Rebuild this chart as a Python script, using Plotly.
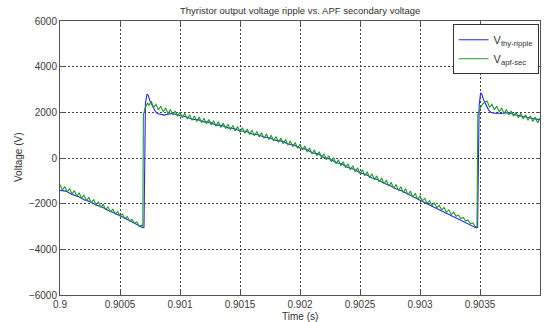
import plotly.graph_objects as go

# ---------------- data (time in units of 10 microseconds after 0.9 s) ----------------
T0 = 0.9
UNIT = 1e-5

green_time_10us = [
    0, 2, 4, 6, 8, 10, 12, 14, 16, 18, 20, 22, 24, 26, 28, 30, 32, 34, 36, 38,
    40, 42, 44, 46, 48, 50, 52, 54, 56, 58, 60, 62, 64, 66, 68,
    69, 69.5, 71, 73, 74,
    76, 78, 80, 82, 84, 86, 88, 90, 92, 94, 96, 98,
    100, 102, 104, 106, 108, 110, 112, 114, 116, 118, 120, 122, 124, 126, 128,
    130, 132, 134, 136, 138, 140, 142, 144, 146, 148, 150, 152, 154, 156, 158,
    160, 162, 164, 166, 168, 170, 172, 174, 176, 178, 180, 182, 184, 186, 188,
    190, 192, 194, 196, 198, 200, 202, 204, 206, 208, 210, 212, 214, 216, 218,
    220, 222, 224, 226, 228, 230, 232, 234, 236, 238, 240, 242, 244, 246, 248,
    250, 252, 254, 256, 258, 260, 262, 264, 266, 268, 270, 272, 274, 276, 278,
    280, 282, 284, 286, 288, 290, 292, 294, 296, 298, 300, 302, 304, 306, 308,
    310, 312, 314, 316, 318, 320, 322, 324, 326, 328, 330, 332, 334, 336, 338,
    340, 342, 344, 346,
    347.5, 348.2, 350, 352, 354,
    356, 358, 360, 362, 364, 366, 368, 370, 372, 374, 376, 378, 380, 382, 384,
    386, 388, 390, 392, 394, 396, 398, 400,
]
v_apf_sec = [
    -1160, -1404, -1248, -1492, -1336, -1580, -1428, -1676, -1524, -1772,
    -1620, -1870, -1720, -1970, -1820, -2060, -1930, -2160, -2030, -2260,
    -2140, -2350, -2240, -2450, -2340, -2540, -2454, -2648, -2562, -2756,
    -2680, -2860, -2800, -2980, -2940,
    -3000, 1900, 2200, 2420, 2300,
    2486, 2218, 2350, 2110, 2270, 2030, 2190, 1950, 2120, 1890, 2060, 1830,
    2010, 1762, 1954, 1706, 1898, 1650, 1844, 1598, 1792, 1546, 1740, 1494, 1688, 1442, 1636,
    1390, 1584, 1338, 1532, 1286, 1480, 1234, 1428, 1182, 1376, 1130, 1324, 1078, 1272, 1026,
    1220, 972, 1164, 916, 1108, 860, 1052, 804, 996, 748, 940, 688, 876, 624, 812,
    560, 746, 492, 678, 424, 610, 348, 526, 264, 442, 180, 358, 96, 274, 12,
    190, -74, 102, -162, 14, -250, -74, -338, -162, -426, -250, -514, -338, -602, -426,
    -690, -514, -778, -602, -866, -690, -956, -782, -1048, -874, -1140, -968, -1236, -1064, -1332,
    -1160, -1428, -1256, -1524, -1352, -1620, -1448, -1716, -1544, -1812, -1670, -1880, -1770, -1980, -1870,
    -2080, -1970, -2180, -2070, -2280, -2170, -2380, -2270, -2480, -2370, -2550, -2502, -2654, -2606, -2758,
    -2710, -2876, -2842, -2998,
    -3000, 1900, 2150, 2350, 2450,
    2486, 2218, 2350, 2110, 2270, 2030, 2190, 1950, 2120, 1890, 2060, 1830, 2010, 1762, 1954,
    1706, 1898, 1650, 1844, 1598, 1792, 1546, 1740,
]

blue_time_10us = [
    0, 5, 10, 15, 20, 25, 30, 35, 40, 45, 50, 55, 60, 65,
    69, 70, 70.6, 71.2, 72.5, 73.5, 75, 77, 79, 81, 84, 87, 90, 93, 96,
    100, 105, 110, 115, 120, 125, 130, 135, 140, 145,
    150, 155, 160, 165, 170, 175, 180, 185, 190, 195,
    200, 205, 210, 215, 220, 225, 230, 235, 240, 245,
    250, 255, 260, 265, 270, 275, 280, 285, 290, 295,
    300, 305, 310, 315, 320, 325, 330, 335, 340, 345,
    347, 348, 348.6, 349.3, 350.5, 351.5, 353, 355, 357, 359,
    362, 365, 368, 371, 375, 380, 385, 390, 395, 400,
]
v_thy_ripple = [
    -1420, -1450, -1600, -1680, -1830, -1910, -2060, -2150, -2290, -2400, -2530, -2660, -2800, -2950,
    -3050, -3040, 0, 2400, 2800, 2750, 2500, 2250, 2080, 1950, 1900, 1880, 1920, 1950, 1920,
    1850, 1810, 1700, 1680, 1580, 1560, 1450, 1420, 1320, 1290,
    1180, 1170, 1050, 1020, 920, 880, 770, 740, 610, 570,
    440, 390, 230, 180, 20, -40, -200, -260, -420, -490,
    -650, -720, -880, -950, -1110, -1200, -1350, -1450, -1590, -1710,
    -1850, -1980, -2110, -2240, -2360, -2490, -2610, -2740, -2870, -3020,
    -3060, -3040, 0, 2300, 2850, 2800, 2550, 2300, 2120, 2000,
    1960, 1970, 1950, 1980, 1960, 1880, 1820, 1760, 1720, 1680,
]

x_tick_vals = [0.9, 0.9005, 0.901, 0.9015, 0.902, 0.9025, 0.903, 0.9035, 0.904]
x_tick_text = ["0.9", "0.9005", "0.901", "0.9015", "0.902", "0.9025", "0.903", "0.9035", "0.904"]
y_tick_vals = [-6000, -4000, -2000, 0, 2000, 4000, 6000]

if len(green_time_10us) != len(v_apf_sec) or len(blue_time_10us) != len(v_thy_ripple):
    raise SystemExit(f"length mismatch {len(green_time_10us)} {len(v_apf_sec)} {len(blue_time_10us)} {len(v_thy_ripple)}")

t_green = [T0 + u * UNIT for u in green_time_10us]
t_blue = [T0 + u * UNIT for u in blue_time_10us]

FONT = "Arial, Liberation Sans, sans-serif"

fig = go.Figure()
fig.add_trace(go.Scatter(x=t_blue, y=v_thy_ripple, mode="lines",
                         line=dict(color="#2727f0", width=1.1),
                         name="V<sub>thy-ripple</sub>"))
fig.add_trace(go.Scatter(x=t_green, y=v_apf_sec, mode="lines",
                         line=dict(color="#1f9a2a", width=1.1),
                         name="V<sub>apf-sec</sub>"))

axis_common = dict(
    showline=True, linecolor="#555", linewidth=1, mirror="ticks",
    ticks="inside", ticklen=4, tickcolor="#555",
    showgrid=True, gridcolor="#444", gridwidth=1, griddash="2px,2px",
    zeroline=False,
    tickfont=dict(family=FONT, size=10, color="#3a3a3a"),
)

fig.update_xaxes(range=[0.9, 0.904], tickvals=x_tick_vals, ticktext=x_tick_text, **axis_common)
fig.update_yaxes(range=[-6000, 6000], tickvals=y_tick_vals, **axis_common)

fig.update_layout(
    width=550, height=322,
    margin=dict(l=60, r=10, t=21, b=27),
    paper_bgcolor="white", plot_bgcolor="white",
    showlegend=True,
    legend=dict(x=0.997, y=0.988, xanchor="right", yanchor="top",
                bgcolor="white", bordercolor="#333", borderwidth=1,
                font=dict(family=FONT, size=11, color="#333"),
                tracegroupgap=0, itemwidth=30),
    annotations=[
        dict(text="Thyristor output voltage ripple vs. APF secondary voltage",
             xref="paper", yref="paper", x=0.5, y=1.04, xanchor="center", yanchor="middle",
             showarrow=False, font=dict(family=FONT, size=9.5, color="#333")),
        dict(text="Time (s)", xref="paper", yref="paper", x=0.5, y=-0.08,
             xanchor="center", yanchor="middle", showarrow=False,
             font=dict(family=FONT, size=10, color="#333")),
        dict(text="Voltage (V)", xref="paper", yref="paper", x=-0.0875, y=0.5,
             xanchor="center", yanchor="middle", textangle=-90, showarrow=False,
             font=dict(family=FONT, size=10, color="#333")),
    ],
)

fig.write_html("out.html")
